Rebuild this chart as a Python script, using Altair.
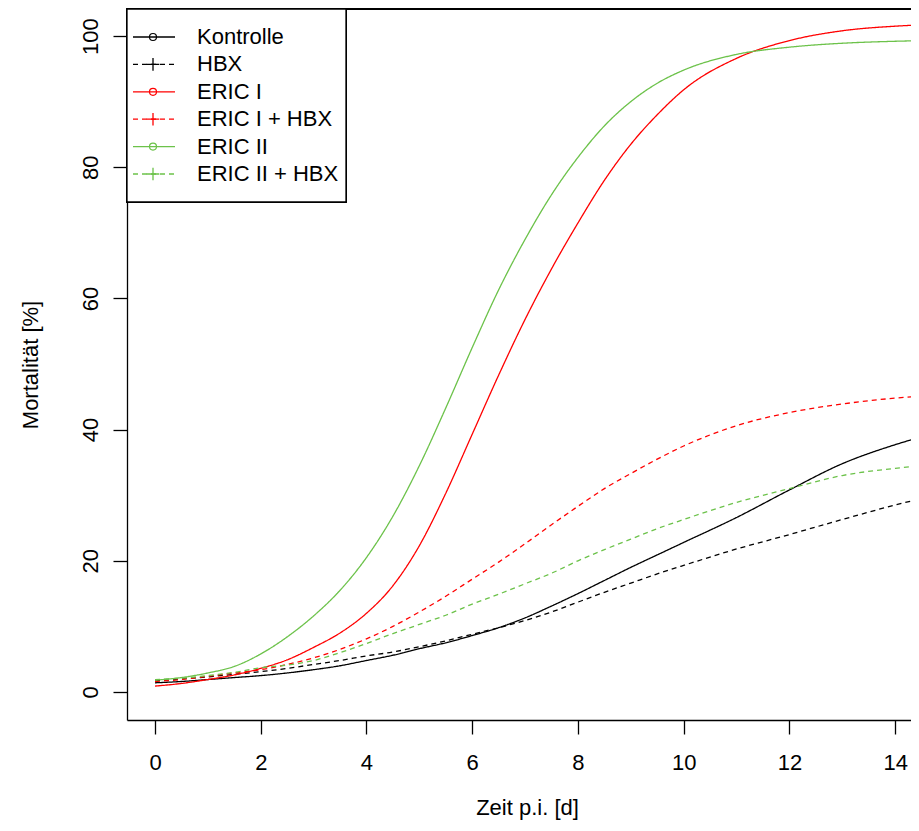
import altair as alt
import pandas as pd

series = ["Kontrolle", "HBX", "ERIC I", "ERIC I + HBX", "ERIC II", "ERIC II + HBX"]
colors = ["#000000", "#000000", "#FF0000", "#FF0000", "#6CC24A", "#6CC24A"]
dashes = [[1, 0], [5, 4], [1, 0], [5, 4], [1, 0], [5, 4]]
markers = ["o", "+", "o", "+", "o", "+"]

days = [0, 0.5, 1, 1.5, 2, 2.5, 3, 3.5, 4, 4.5, 5, 5.5, 6, 6.5, 7, 7.5,
        8, 8.5, 9, 9.5, 10, 11, 12, 13, 14, 14.5]

kontrolle = [1.4, 1.6, 1.9, 2.2, 2.5, 2.9, 3.4, 4.0, 4.8, 5.6, 6.6, 7.5, 8.6, 9.8,
             11.3, 13.1, 15.0, 17.0, 19.0, 20.9, 22.8, 26.6, 30.8, 34.8, 37.7, 38.9]
hbx = [1.7, 2.0, 2.3, 2.7, 3.1, 3.6, 4.2, 4.8, 5.5, 6.1, 6.9, 7.8, 8.8, 9.8,
       10.9, 12.2, 13.7, 15.2, 16.6, 18.0, 19.3, 21.8, 24.0, 26.3, 28.5, 29.5]
eric1 = [0.9, 1.3, 1.9, 2.6, 3.6, 4.9, 6.8, 9.0, 12.0, 16.2, 22.3, 30.3, 39.3, 48.3,
         56.8, 64.5, 71.5, 78.0, 83.5, 88.0, 91.8, 96.6, 99.3, 100.8, 101.5, 101.7]
eric1_hbx = [1.6, 1.9, 2.4, 2.9, 3.4, 4.2, 5.2, 6.5, 8.1, 10.0, 12.2, 14.6, 17.2, 19.8,
             22.6, 25.5, 28.3, 31.0, 33.3, 35.5, 37.5, 40.6, 42.6, 43.9, 44.8, 45.1]
eric2 = [1.8, 2.2, 2.9, 3.9, 5.8, 8.4, 11.6, 15.5, 20.5, 26.8, 34.5, 43.3, 52.5, 61.3,
         69.0, 75.8, 81.5, 86.3, 90.0, 92.8, 94.8, 97.2, 98.3, 98.9, 99.2, 99.3]
eric2_hbx = [1.9, 2.1, 2.5, 3.0, 3.7, 4.1, 4.8, 6.0, 7.4, 8.9, 10.3, 11.7, 13.4, 14.9,
             16.5, 18.1, 20.0, 21.7, 23.3, 24.9, 26.3, 28.9, 31.0, 33.0, 34.1, 34.5]

x_ticks = [0, 2, 4, 6, 8, 10, 12, 14]
y_ticks = [0, 20, 40, 60, 80, 100]

all_values = [kontrolle, hbx, eric1, eric1_hbx, eric2, eric2_hbx]
rows = []
for name, vals in zip(series, all_values):
    for d, v in zip(days, vals):
        rows.append({"series": name, "day": d, "mort": v})
df = pd.DataFrame(rows)

legend_df = pd.DataFrame({"series": series, "row": list(range(len(series))), "marker": markers})

FONT = "Liberation Sans"
W, H = 784, 711

color_scale = alt.Scale(domain=series, range=colors)
dash_scale = alt.Scale(domain=series, range=dashes)

lines = alt.Chart(df).mark_line(clip=True, strokeWidth=1.3, interpolate="monotone").encode(
    x=alt.X("day:Q",
            scale=alt.Scale(domain=[-0.53, 14.30], nice=False, zero=False),
            axis=alt.Axis(values=x_ticks, title="Zeit p.i. [d]",
                          labelBaseline="alphabetic", labelPadding=35,
                          titleX=400, titleY=94, titleAlign="center",
                          titleBaseline="alphabetic")),
    y=alt.Y("mort:Q",
            scale=alt.Scale(domain=[-4.27, 104.12], nice=False, zero=False),
            axis=alt.Axis(values=y_ticks, title="Mortalität [%]",
                          labelAngle=270, labelAlign="center",
                          labelBaseline="alphabetic", labelPadding=16,
                          titleAngle=270, titleX=-97, titleBaseline="middle")),
    color=alt.Color("series:N", scale=color_scale, legend=None),
    strokeDash=alt.StrokeDash("series:N", scale=dash_scale, legend=None),
    order=alt.Order("day:Q"),
)

top_rule = alt.Chart(legend_df).mark_rule(color="black", strokeWidth=1.3).encode(
    x=alt.value(0), x2=alt.value(W), y=alt.value(0)
)

legend_box = alt.Chart(legend_df).mark_rect(fill="white", stroke="black", strokeWidth=1.3).encode(
    x=alt.value(0), x2=alt.value(219), y=alt.value(0), y2=alt.value(193)
)

legend_y = alt.Y("row:Q", scale=alt.Scale(domain=[0, 5], range=[28, 165], nice=False, zero=False), axis=None)

legend_lines = alt.Chart(legend_df).mark_rule(strokeWidth=1.3).encode(
    x=alt.value(6), x2=alt.value(48), y=legend_y,
    color=alt.Color("series:N", scale=color_scale, legend=None),
    strokeDash=alt.StrokeDash("series:N", scale=dash_scale, legend=None),
)

legend_circles = alt.Chart(legend_df).transform_filter(alt.datum.marker == "o").mark_point(
    shape="circle", size=49, filled=False, strokeWidth=1.2, opacity=1
).encode(
    x=alt.value(26), y=legend_y,
    color=alt.Color("series:N", scale=color_scale, legend=None),
)

legend_plus = alt.Chart(legend_df).transform_filter(alt.datum.marker == "+").mark_point(
    shape="M-1,0H1M0,-1V1", size=160, filled=False, strokeWidth=1.3, opacity=1
).encode(
    x=alt.value(26), y=legend_y,
    color=alt.Color("series:N", scale=color_scale, legend=None),
)

legend_text = alt.Chart(legend_df).mark_text(
    align="left", baseline="middle", font=FONT, fontSize=22, color="black"
).encode(
    x=alt.value(70), y=legend_y, text="series:N"
)

chart = alt.layer(
    lines, top_rule, legend_box, legend_lines, legend_circles, legend_plus, legend_text
).resolve_scale(y="independent").properties(
    width=W, height=H,
    autosize=alt.AutoSizeParams(type="none"),
    padding={"left": 119, "top": 1, "right": 0, "bottom": 100},
).configure_view(stroke=None).configure_axis(
    grid=False,
    domainColor="black", domainWidth=1.3,
    tickColor="black", tickWidth=1.3, tickSize=14,
    labelFont=FONT, labelFontSize=22, labelColor="black",
    titleFont=FONT, titleFontSize=22, titleFontWeight="normal", titleColor="black",
)

chart.save("out.html", embed_options={"renderer": "svg", "actions": False})
